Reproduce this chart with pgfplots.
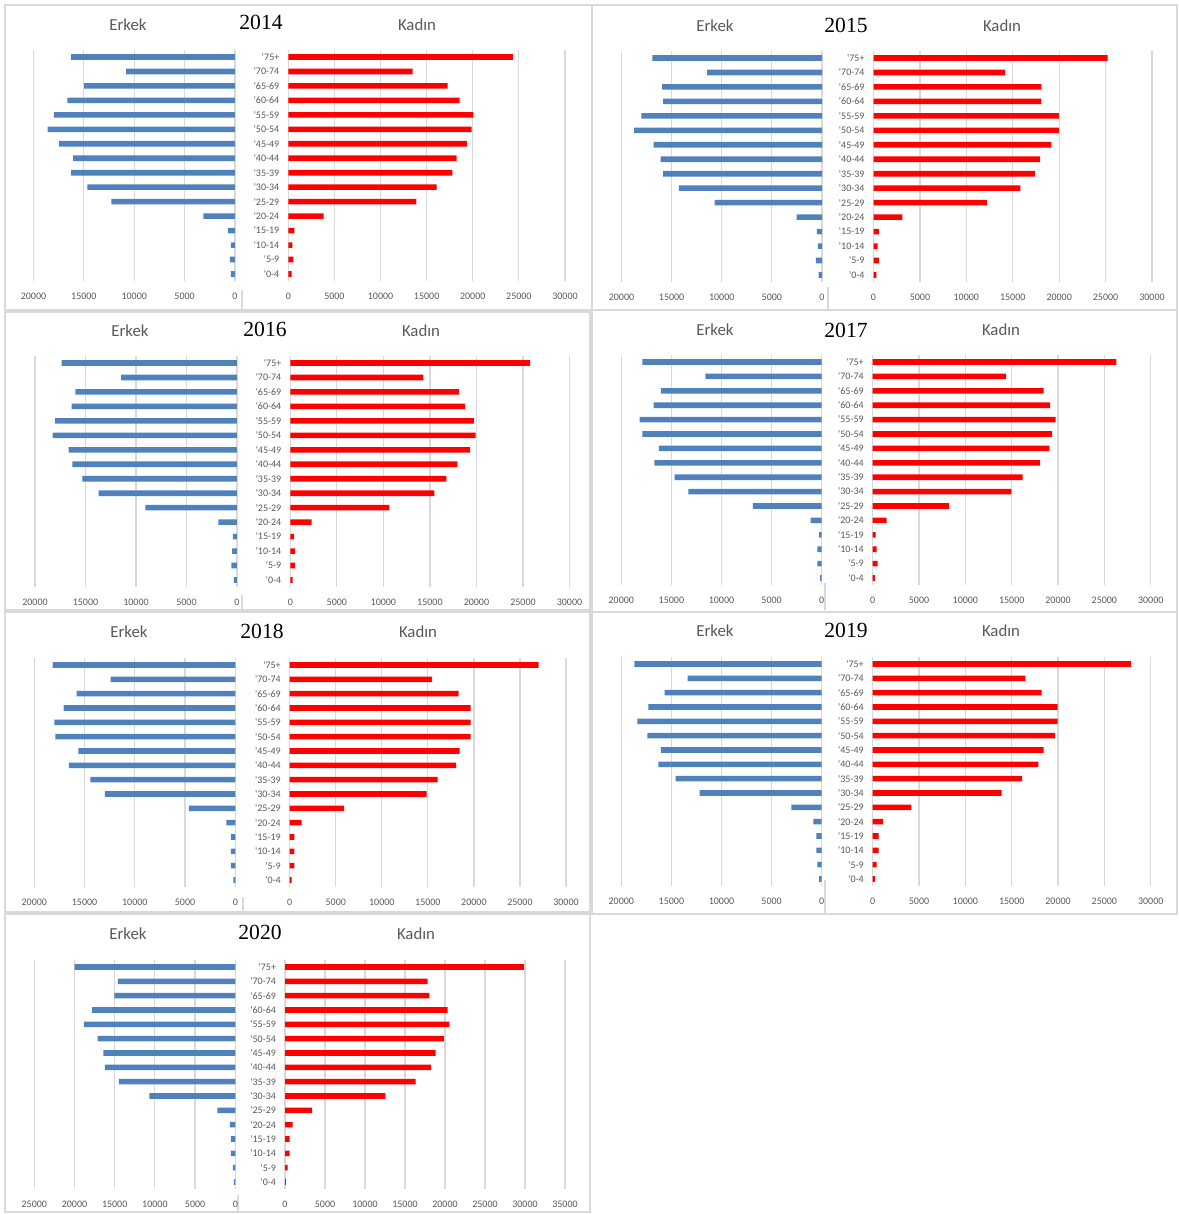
\documentclass[border=0pt]{standalone}
\usepackage{fontspec}
\setmainfont{Carlito}[Ligatures=TeXOff]
\newfontfamily\yearfont{Liberation Serif}
\usepackage{pgfplots}
\usepackage{pgfplotstable}
\pgfplotsset{compat=1.18}

\definecolor{erk}{RGB}{79,129,189}
\definecolor{kad}{RGB}{255,0,0}
\definecolor{grd}{RGB}{217,217,217}
\definecolor{txt}{RGB}{89,89,89}

% i: 0 = '0-4 ... 15 = '75+ ; E = Erkek, K = Kadin
\pgfplotstableread{
i E K
0 400 360
1 500 540
2 400 430
3 700 650
4 3140 3830
5 12260 13880
6 14650 16080
7 16260 17780
8 16070 18250
9 17450 19370
10 18610 19880
11 17980 20060
12 16630 18580
13 14980 17280
14 10810 13480
15 16260 24360
}\tA
\pgfplotstableread{
i E K
0 330 320
1 600 570
2 410 450
3 520 570
4 2530 3110
5 10710 12210
6 14280 15810
7 15840 17390
8 16100 17950
9 16800 19170
10 18740 19980
11 18030 19980
12 15840 18080
13 15950 18080
14 11450 14190
15 16910 25230
}\tB
\pgfplotstableread{
i E K
0 300 240
1 560 520
2 480 520
3 410 400
4 1850 2300
5 9070 10650
6 13700 15480
7 15300 16770
8 16300 17940
9 16670 19310
10 18260 19920
11 18000 19720
12 16370 18790
13 16000 18150
14 11480 14310
15 17370 25770
}\tC
\pgfplotstableread{
i E K
0 170 220
1 430 540
2 430 430
3 270 320
4 1100 1510
5 6860 8240
6 13310 14960
7 14680 16190
8 16700 18060
9 16240 19060
10 17900 19350
11 18170 19750
12 16770 19140
13 16040 18450
14 11610 14390
15 17900 26300
}\tD
\pgfplotstableread{
i E K
0 200 220
1 430 510
2 430 510
3 430 510
4 900 1300
5 4610 5900
6 12970 14870
7 14430 16070
8 16550 18060
9 15620 18460
10 17910 19650
11 18010 19650
12 17080 19650
13 15790 18350
14 12400 15450
15 18180 27030
}\tE
\pgfplotstableread{
i E K
0 270 220
1 430 430
2 530 650
3 530 650
4 830 1120
5 3030 4170
6 12180 13920
7 14580 16120
8 16300 17880
9 16040 18450
10 17400 19680
11 18400 19960
12 17300 19960
13 15670 18240
14 13380 16470
15 18700 27880
}\tF
\pgfplotstableread{
i E K
0 170 100
1 290 330
2 540 580
3 540 580
4 660 960
5 2240 3380
6 10700 12540
7 14470 16330
8 16210 18250
9 16420 18830
10 17120 19870
11 18820 20540
12 17830 20330
13 15050 18040
14 14590 17830
15 19980 29870
}\tG

\pgfplotsset{pyr/.style={
  scale only axis, anchor=north west, xbar,
  ymin=-0.5, ymax=15.5,
  axis line style={draw=none},
  tick style={draw=none},
  xmajorgrids, grid style={grd, line width=0.6pt},
  xtick distance=5000,
  scaled x ticks=false,
  /pgf/number format/1000 sep={},
  /pgf/number format/assume math mode=true,
  ticklabel style={font=\fontsize{5}{6}\selectfont, text=txt},
  xticklabel style={yshift=-2.6pt},
  yticklabel style={xshift=3.3pt},
  clip=false,
}}

% #1 table, #2 px of left max, #3 px of left 0, #4 px of right 0, #5 px of right max,
% #6 py of '75+, #7 py of '0-4, #8 left xmax, #9 right xmax
\newcommand\panel[9]{%
  \pgfmathsetmacro\pyS{(#7-#6)/15}%
  \pgfmathsetmacro\pyT{-(#6-\pyS/2)*0.5}%
  \pgfmathsetmacro\pyH{16*\pyS*0.5}%
  \pgfmathsetmacro\pyLx{#2*0.5}%
  \pgfmathsetmacro\pyLw{(#3-#2)*0.5}%
  \pgfmathsetmacro\pyRx{#4*0.5}%
  \pgfmathsetmacro\pyRw{(#5-#4)*0.5}%
  \begin{axis}[pyr, at={(\pyLx pt,\pyT pt)}, width=\pyLw pt, height=\pyH pt,
    x dir=reverse, xmin=0, xmax=#8, ytick=\empty]
    \addplot[fill=erk, draw=none, bar width=2.8pt] table[x=E, y=i] {#1};
  \end{axis}
  \begin{axis}[pyr, at={(\pyRx pt,\pyT pt)}, width=\pyRw pt, height=\pyH pt,
    xmin=0, xmax=#9, ytick={0,...,15},
    yticklabels={'0-4,'5-9,'10-14,'15-19,'20-24,'25-29,'30-34,'35-39,'40-44,'45-49,'50-54,'55-59,'60-64,'65-69,'70-74,'75+}]
    \addplot[fill=kad, draw=none, bar width=2.8pt] table[x=K, y=i] {#1};
  \end{axis}}

% text node at pixel position
\newcommand\tn[4]{\pgfmathsetmacro\tnx{#1*0.5}\pgfmathsetmacro\tny{-#2*0.5}\node[#3] at (\tnx pt,\tny pt) {#4};}
% titles of a panel
\newcommand\titles[7]{%
  \tn{#1}{#2}{text=txt, font=\fontsize{8.4}{10}\selectfont}{Erkek}%
  \tn{#3}{#4}{font=\yearfont\fontsize{10.8}{12}\selectfont}{#7}%
  \tn{#5}{#6}{text=txt, font=\fontsize{8.4}{10}\selectfont}{Kadın}}
% frame rectangle / line in pixels
\newcommand\fr[4]{\pgfmathsetmacro\fa{#1*0.5}\pgfmathsetmacro\fb{-#2*0.5}\pgfmathsetmacro\fc{#3*0.5}\pgfmathsetmacro\fd{-#4*0.5}\draw[grd, line width=0.6pt] (\fa pt,\fb pt) rectangle (\fc pt,\fd pt);}
\newcommand\gl[4]{\pgfmathsetmacro\fa{#1*0.5}\pgfmathsetmacro\fb{-#2*0.5}\pgfmathsetmacro\fc{#3*0.5}\pgfmathsetmacro\fd{-#4*0.5}\draw[grd, line width=0.6pt] (\fa pt,\fb pt) -- (\fc pt,\fd pt);}

\begin{document}
\begin{tikzpicture}
\useasboundingbox (0pt,0pt) rectangle (589pt,-607pt);

\fr{5}{5}{592}{310}
\fr{592}{5}{1177}{310}
\fr{5}{312}{590}{610}
\fr{592}{310}{1177}{612}
\fr{5}{612}{590}{912}
\fr{592}{612}{1177}{914}
\fr{5}{914}{590}{1212}
\gl{242}{290}{242}{310}
\gl{828}{287}{828}{310}
\gl{242}{595}{242}{610}
\gl{825}{583}{825}{610}
\gl{243}{897}{243}{912}
\gl{825}{880}{825}{914}
\gl{238}{1195}{238}{1212}

\panel{\tA}{33.5}{235}{288.3}{565}{57}{274}{20000}{30000}
\panel{\tB}{621.5}{822}{873.5}{1152}{58}{275}{20000}{30000}
\panel{\tC}{35}{237}{290.3}{569.5}{363}{580}{20000}{30000}
\panel{\tD}{621.3}{821.7}{872.7}{1150.7}{362}{578}{20000}{30000}
\panel{\tE}{34.3}{235.3}{289.7}{566}{665}{880}{20000}{30000}
\panel{\tF}{621.3}{821.7}{872.7}{1150.7}{664}{879}{20000}{30000}
\panel{\tG}{34.3}{235.3}{285}{565}{967}{1182}{25000}{35000}

\titles{128}{25}{261}{22}{417}{25}{2014}
\titles{715}{26}{846}{25}{1002}{26}{2015}
\titles{130}{331}{265}{329}{421}{331}{2016}
\titles{715}{330}{846}{330}{1001}{330}{2017}
\titles{129}{632}{262}{631}{418}{632}{2018}
\titles{715}{631}{846}{630}{1001}{631}{2019}
\titles{128}{934}{260}{932}{416}{934}{2020}
\end{tikzpicture}
\end{document}
